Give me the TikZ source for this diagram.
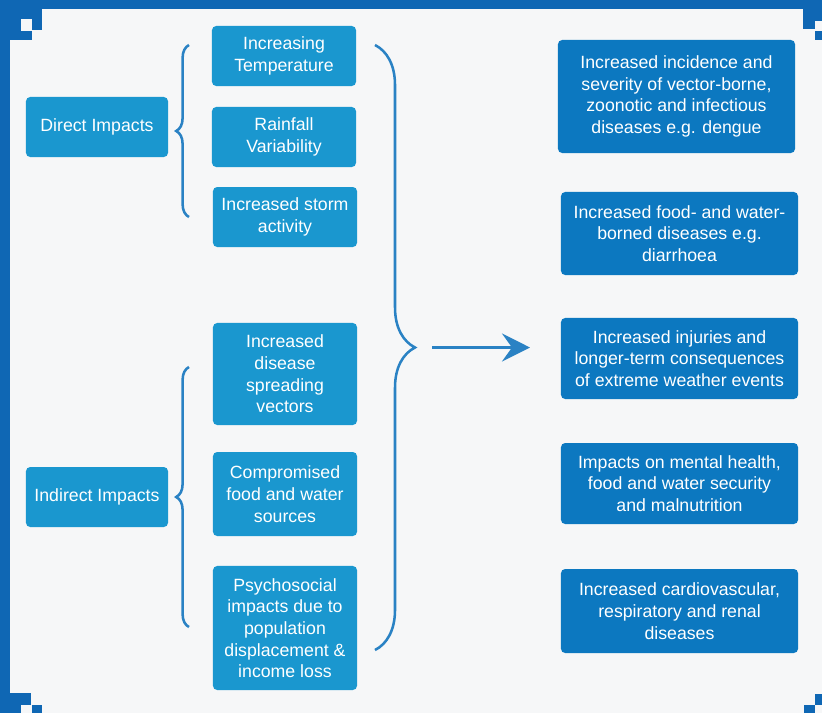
\documentclass[tikz,border=0pt]{standalone}
\usepackage{fontspec}
\setmainfont{Liberation Sans}
\usetikzlibrary{positioning, arrows.meta, decorations.pathreplacing}
\definecolor{frameBlue}{HTML}{0F67B4}
\definecolor{causeBlue}{HTML}{1A97CF}
\definecolor{effectBlue}{HTML}{0C78C0}
\definecolor{braceBlue}{HTML}{2A82C4}
\definecolor{paperLight}{HTML}{F6F7F8}

\begin{document}
\begin{tikzpicture}[
    x=0.025cm, y=-0.025cm,
    boxBase/.style={rounded corners=3pt, text=white, align=center, inner sep=0pt,
        font=\fontsize{12.6}{15.4}\selectfont},
    impGroup/.style={boxBase, fill=causeBlue, minimum width=3.55cm, minimum height=1.5cm},
    impCause/.style={boxBase, fill=causeBlue, minimum width=3.6cm},
    impEffect/.style={boxBase, fill=effectBlue, minimum width=5.925cm},
    curly/.style={decorate, decoration={brace, amplitude=#1}, draw=braceBlue, line width=1.8pt},
    >={Stealth[length=7mm, width=7mm, inset=2.5mm]},
    flow/.style={draw=braceBlue, line width=2.2pt, ->},
]
\useasboundingbox (0,0) rectangle (822,713);
\fill[paperLight] (0,0) rectangle (822,713);
% frame
\fill[frameBlue] (0,0) rectangle (822,9);
\fill[frameBlue] (0,0) rectangle (10,693);
\fill[frameBlue] (10,0) rectangle (32,40);
\fill[frameBlue] (32,0) rectangle (42,30);
\fill[paperLight] (21,19) rectangle (32,31);
\fill[frameBlue] (803,0) rectangle (822,21);
\fill[frameBlue] (803,21) rectangle (815,29);
\fill[frameBlue] (815,31) rectangle (822,40);
\fill[frameBlue] (0,693) rectangle (31,713);
\fill[paperLight] (21,705) rectangle (31,713);
\fill[frameBlue] (32,705) rectangle (42,713);
\fill[frameBlue] (815,694) rectangle (822,705);
\fill[frameBlue] (804,705) rectangle (815,713);

% impact groups
\node[impGroup] (direct)   at (97,127) {Direct Impacts};
\node[impGroup] (indirect) at (97,497) {Indirect Impacts};

% causes
\node[impCause, minimum height=1.5cm]   (temp)    at (284,56)  {Increasing\\Temperature};
\node[impCause, minimum height=1.5cm]   (rain)    at (284,137) {Rainfall\\Variability};
\node[impCause, minimum height=1.5cm]   (storm)   at (285,217) {Increased storm\\activity};
\node[impCause, minimum height=2.55cm]  (vectors) at (285,374) {Increased\\disease\\spreading\\vectors};
\node[impCause, minimum height=2.1cm]   (food)    at (285,494) {Compromised\\food and water\\sources};
\node[impCause, minimum height=3.1cm]   (psycho)  at (285,628) {Psychosocial\\impacts due to\\population\\displacement \&\\income loss};

% health effects
\node[impEffect, minimum height=2.825cm] (vector)  at (676.5,96.5) {Increased incidence and\\severity of vector-borne,\\zoonotic and infectious\\diseases e.g. dengue};
\node[impEffect, minimum height=2.075cm] (water)   at (679.5,233.5) {Increased food- and water-\\borned diseases e.g.\\diarrhoea};
\node[impEffect, minimum height=2.025cm] (injury)  at (679.5,358.5) {Increased injuries and\\longer-term consequences\\of extreme weather events};
\node[impEffect, minimum height=2.025cm] (mental)  at (679.5,483.5) {Impacts on mental health,\\food and water security\\and malnutrition};
\node[impEffect, minimum height=2.1cm]   (cardio)  at (679.5,611) {Increased cardiovascular,\\respiratory and renal\\diseases};

% braces
\coordinate (dirTop)   at (189,45);
\coordinate (dirBot)   at (189,217);
\coordinate (indTop)   at (189,367);
\coordinate (indBot)   at (189,627);
\coordinate (allTop)   at (375,45);
\coordinate (allBot)   at (375,650);
\coordinate (flowFrom) at (432,347.5);
\coordinate (flowTo)   at (530,347.5);
\draw[curly=0.32cm] (dirBot) -- (dirTop);
\draw[curly=0.32cm] (indBot) -- (indTop);
\draw[curly=1cm]    (allTop) -- (allBot);
\draw[flow] (flowFrom) -- (flowTo);
\end{tikzpicture}
\end{document}
